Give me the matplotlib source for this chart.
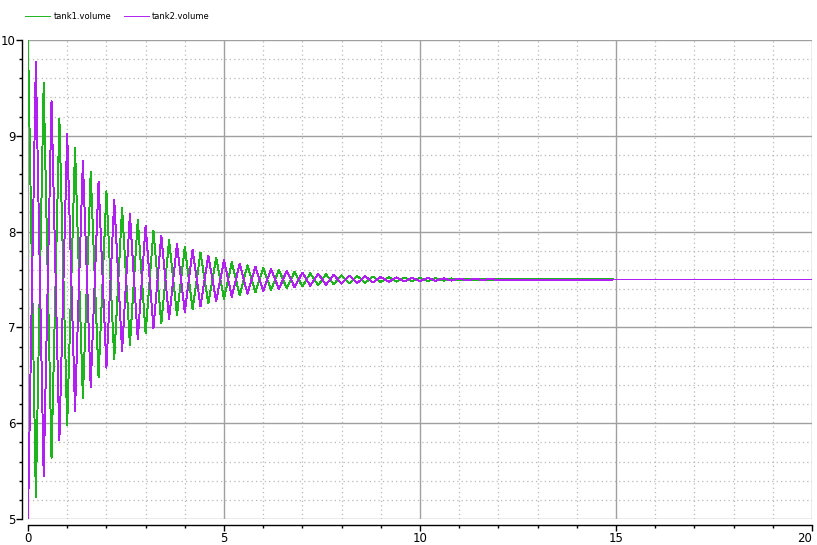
import numpy as np
import matplotlib.pyplot as plt
from matplotlib.ticker import MultipleLocator

# times of the turning points (s): half period ~0.2 s
t_ext = [0.0, 0.2, 0.4, 0.6, 0.8, 1.0, 1.2, 1.4, 1.6, 1.8,
         2.0, 2.2, 2.4, 2.6, 2.8, 3.0, 3.2, 3.4, 3.6, 3.8,
         4.0, 4.2, 4.4, 4.6, 4.8, 5.0, 5.2, 5.4, 5.6, 5.8,
         6.0, 6.2, 6.4, 6.6, 6.8, 7.0, 7.2, 7.4, 7.6, 7.8,
         8.0, 8.2, 8.4, 8.6, 8.8, 9.0, 9.2, 9.4, 9.6, 9.8,
         10.0, 10.2, 10.4, 10.6, 10.8, 11.0, 11.2, 11.4, 11.6, 11.8,
         12.0, 15.0]

# tank1.volume at those turning points
tank1 = [10.0, 5.23, 9.55, 5.64, 9.18, 5.98, 8.87, 6.26, 8.62, 6.48,
         8.42, 6.67, 8.25, 6.82, 8.12, 6.94, 8.01, 7.04, 7.91, 7.13,
         7.84, 7.19, 7.78, 7.25, 7.725, 7.30, 7.68, 7.335, 7.65, 7.365,
         7.62, 7.39, 7.60, 7.41, 7.58, 7.427, 7.566, 7.44, 7.554, 7.451,
         7.544, 7.46, 7.536, 7.467, 7.53, 7.473, 7.524, 7.478, 7.52, 7.482,
         7.516, 7.485, 7.513, 7.488, 7.511, 7.49, 7.509, 7.492, 7.507, 7.494,
         7.506, 7.5]

# tank2.volume at the same points, plus the flat tail to 20 s
tank2 = [5.0, 9.77, 5.45, 9.36, 5.82, 9.02, 6.13, 8.74, 6.38, 8.52,
         6.58, 8.33, 6.75, 8.18, 6.88, 8.06, 6.99, 7.96, 7.09, 7.87,
         7.16, 7.81, 7.22, 7.75, 7.275, 7.70, 7.32, 7.665, 7.35, 7.635,
         7.38, 7.61, 7.40, 7.59, 7.42, 7.573, 7.434, 7.56, 7.446, 7.549,
         7.456, 7.54, 7.464, 7.533, 7.47, 7.527, 7.476, 7.522, 7.48, 7.518,
         7.484, 7.515, 7.487, 7.512, 7.489, 7.51, 7.491, 7.508, 7.493, 7.5065,
         7.494, 7.5, 7.5]
t_tank2 = t_ext + [20.0]

x_ticks = [0, 5, 10, 15, 20]
y_ticks = [5, 6, 7, 8, 9, 10]

green = '#1eb41e'
purple = '#b020f0'

fig = plt.figure(figsize=(8.17, 5.45), dpi=100)
ax = fig.add_axes([28 / 817, 26 / 545, 784 / 817, 479 / 545])

ax.plot(t_ext, tank1, color=green, lw=0.7, antialiased=False, label='tank1.volume')
ax.plot(t_tank2, tank2, color=purple, lw=0.7, antialiased=False, label='tank2.volume')

ax.set_xlim(0, 20)
ax.set_ylim(5, 10)
ax.set_xticks(x_ticks, [str(v) for v in x_ticks])
ax.set_yticks(y_ticks, [str(v) for v in y_ticks])
ax.xaxis.set_minor_locator(MultipleLocator(1))
ax.yaxis.set_minor_locator(MultipleLocator(0.2))

# grid: solid major, dotted minor
ax.grid(which='major', color='#a0a0a0', lw=1.0, ls='-')
ax.grid(which='minor', color='#b8b8b8', lw=0.9, ls=(0, (1, 2.5)))
ax.set_axisbelow(True)

for side in ['top', 'right']:
    ax.spines[side].set_visible(False)
for side in ['left', 'bottom']:
    ax.spines[side].set_position(('outward', 4))
    ax.spines[side].set_linewidth(1.0)

ax.tick_params(which='major', length=4, width=1, labelsize=8.5, pad=1)
ax.tick_params(which='minor', length=2.5, width=1)

# last x label sits against the right edge
for lab in ax.get_xticklabels():
    if lab.get_text() == '20':
        lab.set_horizontalalignment('right')

fig.legend(loc='upper left', bbox_to_anchor=(0.022, 0.992), ncol=2, frameon=False,
           fontsize=6, handlelength=3.0, handletextpad=0.35, columnspacing=1.5)

fig.savefig('out.png', dpi=100)
